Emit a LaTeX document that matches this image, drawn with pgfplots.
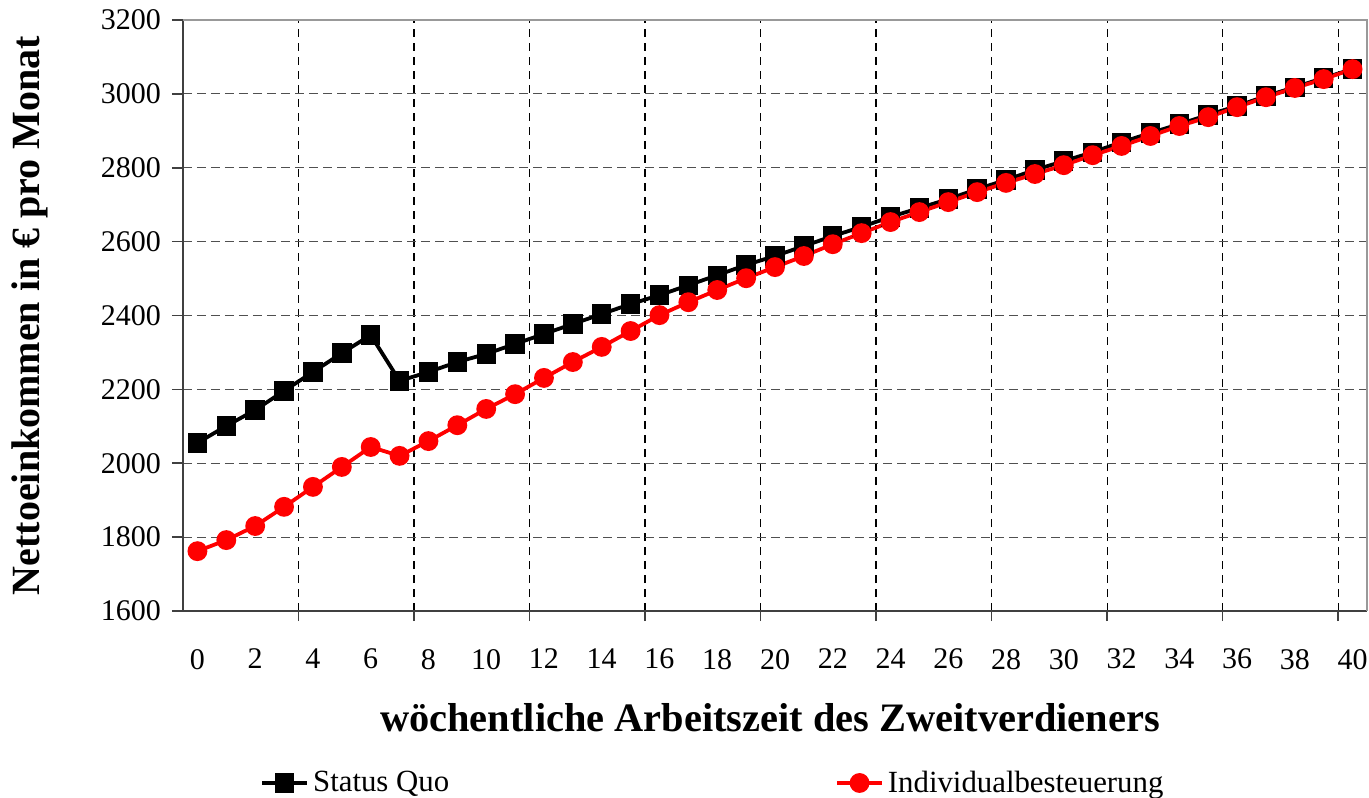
\documentclass[border=0pt]{standalone}
\usepackage{fontspec}
\setmainfont{Liberation Serif}
\usepackage{pgfplots}
\pgfplotsset{compat=1.18}
\definecolor{axdark}{HTML}{404040}
\definecolor{axlight}{HTML}{999999}
\definecolor{gridh}{HTML}{505050}
\definecolor{sqred}{HTML}{FF0000}
\begin{document}
\begin{tikzpicture}
\begin{axis}[
  name=ax,
  scale only axis,
  width=592pt, height=295.5pt,
  xmin=-0.5, xmax=40.5,
  ymin=1600, ymax=3200,
  ytick={1600,1800,...,3200},
  xtick={0,2,...,40},
  minor xtick={3.5,7.5,...,39.5},
  axis x line*=bottom,
  axis y line*=left,
  axis line style={axdark, line width=1pt, -},
  tick align=outside,
  major x tick style={draw=none},
  major y tick style={axdark, line width=0.8pt},
  minor x tick style={axdark, line width=0.8pt},
  major tick length=5.5pt,
  minor tick length=5pt,
  ymajorgrids, xminorgrids,
  major y grid style={gridh, line width=0.6pt, dash pattern=on 4.5pt off 2.5pt},
  minor x grid style={black, line width=0.6pt, dash pattern=on 4pt off 3pt},
  /pgf/number format/assume math mode=true,
  /pgf/number format/1000 sep={},
  ticklabel style={font=\fontsize{15}{18}\selectfont},
  xticklabel style={yshift=-10pt},
  yticklabel style={xshift=-2pt},
  xlabel={wöchentliche Arbeitszeit des Zweitverdieners},
  ylabel={Nettoeinkommen in € pro Monat},
  xlabel style={font=\fontsize{20.2}{23}\selectfont\bfseries, at={(axis description cs:0.4958,-0.181)}, anchor=center},
  ylabel style={font=\fontsize{20}{23}\selectfont\bfseries, at={(axis description cs:-0.1292,0.5)}, anchor=center},
  legend columns=2,
  legend style={draw=none, fill=none, inner sep=0pt, font=\fontsize{15.4}{18}\selectfont,
    at={(axis description cs:0.065,-0.291)}, anchor=west,
    /tikz/every even column/.append style={column sep=0pt}},
  legend image code/.code={\draw[mark repeat=2, mark phase=2, #1] plot coordinates {(0pt,0pt) (11.25pt,0pt) (22.5pt,0pt)};},
  after end axis/.code={\draw[axlight, line width=1pt] (rel axis cs:0,1) -- (rel axis cs:1,1) -- (rel axis cs:1,0);},
]
\addplot[black, line width=1.9pt, mark=square*, mark size=3.9pt, mark options={solid}] coordinates {
(0,2055) (1,2101) (2,2144) (3,2196) (4,2247) (5,2298) (6,2347) (7,2223) (8,2247) (9,2274)
(10,2296) (11,2323) (12,2350) (13,2377) (14,2404) (15,2431) (16,2455) (17,2482) (18,2509) (19,2537)
(20,2561) (21,2588) (22,2615) (23,2640) (24,2667) (25,2691) (26,2715) (27,2742) (28,2767) (29,2794)
(30,2818) (31,2842) (32,2869) (33,2894) (34,2918) (35,2943) (36,2967) (37,2994) (38,3018) (39,3043)
(40,3067)};
\addlegendentry{\makebox[259pt][l]{Status Quo}}
\addplot[sqred, line width=1.9pt, mark=*, mark size=4pt, mark options={solid}] coordinates {
(0,1762) (1,1792) (2,1830) (3,1882) (4,1936) (5,1990) (6,2044) (7,2020) (8,2060) (9,2103)
(10,2147) (11,2187) (12,2231) (13,2274) (14,2315) (15,2358) (16,2401) (17,2436) (18,2469) (19,2501)
(20,2531) (21,2561) (22,2593) (23,2623) (24,2653) (25,2680) (26,2707) (27,2734) (28,2759) (29,2783)
(30,2807) (31,2834) (32,2859) (33,2886) (34,2913) (35,2937) (36,2964) (37,2991) (38,3016) (39,3040)
(40,3067)};
\addlegendentry{Individualbesteuerung}
\end{axis}
\pgfresetboundingbox
\path (ax.south west) ++(-91.5pt,-93pt) rectangle ++(684.5pt,398.5pt);
\end{tikzpicture}
\end{document}
